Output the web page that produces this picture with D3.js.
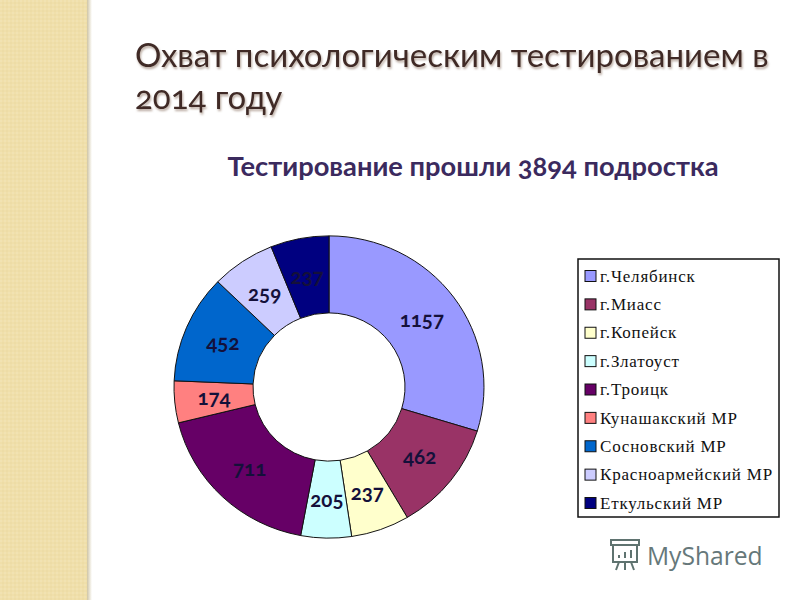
<!DOCTYPE html>
<html>
<head>
<meta charset="utf-8">
<script src="https://cdn.jsdelivr.net/npm/d3@7"></script>
<style>
  html, body { margin: 0; padding: 0; background: #fff; }
  svg { display: block; }
  text { font-feature-settings: "onum"; }
</style>
</head>
<body>
<div id="chart"></div>
<script>
const categories = ['г.Челябинск', 'г.Миасс', 'г.Копейск', 'г.Златоуст', 'г.Троицк',
  'Кунашакский МР', 'Сосновский МР', 'Красноармейский МР', 'Еткульский МР'];
const values = [1157, 462, 237, 205, 711, 174, 452, 259, 237];
const colors = ['#9999ff', '#993366', '#ffffcc', '#ccffff', '#660066',
  '#ff8080', '#0066cc', '#ccccff', '#000080'];
const titleLines = ['Охват психологическим тестированием в', '2014 году'];
const subtitle = 'Тестирование прошли 3894 подростка';

const width = 800;
const height = 600;

const svg = d3.select('#chart')
  .append('svg')
  .attr('width', width)
  .attr('height', height);

const defs = svg.append('defs');

// dotted tan texture of the slide's side band
const pattern = defs.append('pattern')
  .attr('id', 'band')
  .attr('width', 4)
  .attr('height', 4)
  .attr('patternUnits', 'userSpaceOnUse');
pattern.append('rect').attr('width', 4).attr('height', 4).attr('fill', '#f0dfaa');
pattern.append('circle').attr('cx', 1).attr('cy', 1).attr('r', 0.8).attr('fill', '#f4e6bd');
pattern.append('circle').attr('cx', 3).attr('cy', 3).attr('r', 0.8).attr('fill', '#ebd9a2');

const edge = defs.append('linearGradient').attr('id', 'edge');
edge.append('stop').attr('offset', '0%').attr('stop-color', '#cfc5a6');
edge.append('stop').attr('offset', '100%').attr('stop-color', '#ffffff');

const shadow = defs.append('filter')
  .attr('id', 'shadow')
  .attr('x', '-5%').attr('y', '-20%')
  .attr('width', '110%').attr('height', '150%');
shadow.append('feDropShadow')
  .attr('dx', 1).attr('dy', 2)
  .attr('stdDeviation', 1.2)
  .attr('flood-color', '#8a7060')
  .attr('flood-opacity', 0.6);

svg.append('rect').attr('width', 87).attr('height', height).attr('fill', 'url(#band)');
svg.append('rect').attr('x', 87).attr('width', 5).attr('height', height).attr('fill', 'url(#edge)');

// Title
svg.selectAll('.title')
  .data(titleLines)
  .enter()
  .append('text')
  .attr('class', 'title')
  .attr('x', 135)
  .attr('y', (d, i) => 67 + i * 42)
  .attr('font-family', 'Lato')
  .attr('font-size', 33)
  .attr('fill', '#3f2a26')
  .attr('filter', 'url(#shadow)')
  .text(d => d);

svg.append('text')
  .attr('x', 473)
  .attr('y', 176)
  .attr('text-anchor', 'middle')
  .attr('font-family', 'Lato')
  .attr('font-weight', 'bold')
  .attr('font-size', 27.3)
  .attr('fill', '#3b2a5e')
  .text(subtitle);

// Donut, slightly squashed vertically like the source slide
const pie = d3.pie().sort(null).value(d => d);
const arc = d3.arc().innerRadius(76).outerRadius(155);

const donut = svg.append('g').attr('transform', 'translate(329,387) scale(1,0.975)');

donut.selectAll('path')
  .data(pie(values))
  .enter()
  .append('path')
  .attr('d', arc)
  .attr('fill', (d, i) => colors[i])
  .attr('stroke', '#111')
  .attr('stroke-width', 1);

donut.selectAll('text')
  .data(pie(values))
  .enter()
  .append('text')
  .attr('transform', d => `translate(${arc.centroid(d)})`)
  .attr('text-anchor', 'middle')
  .attr('dy', '0.36em')
  .attr('font-family', 'Lato')
  .attr('font-weight', 'bold')
  .attr('font-size', 20.5)
  .attr('fill', '#14103a')
  .text(d => d.data);

// Legend
const legendY = d3.scalePoint()
  .domain(categories)
  .range([276, 503]);

svg.append('rect')
  .attr('x', 578)
  .attr('y', 259)
  .attr('width', 201)
  .attr('height', 258)
  .attr('fill', '#fff')
  .attr('stroke', '#111')
  .attr('stroke-width', 1.5);

const legend = svg.selectAll('.legend')
  .data(categories)
  .enter()
  .append('g')
  .attr('class', 'legend')
  .attr('transform', d => `translate(585,${legendY(d)})`);

legend.append('rect')
  .attr('y', -5.5)
  .attr('width', 11)
  .attr('height', 11)
  .attr('fill', (d, i) => colors[i])
  .attr('stroke', '#111')
  .attr('stroke-width', 1);

legend.append('text')
  .attr('x', 15)
  .attr('dy', '0.33em')
  .attr('font-family', 'Liberation Serif')
  .attr('font-size', 17)
  .attr('letter-spacing', 0.8)
  .attr('fill', '#111')
  .text(d => d);

// Watermark
const mark = svg.append('g')
  .attr('transform', 'translate(608,538)')
  .attr('fill', 'none')
  .attr('stroke', '#5f7370')
  .attr('stroke-width', 2);
mark.append('rect').attr('x', 3).attr('y', 2).attr('width', 28).attr('height', 5);
mark.append('rect').attr('x', 5).attr('y', 7).attr('width', 24).attr('height', 17);
mark.append('path').attr('d', 'M11 24l-3 8M23 24l3 8M17 24v8M11 20v-3M17 20v-6M23 20v-8');

svg.append('text')
  .attr('x', 647)
  .attr('y', 565)
  .attr('font-family', 'Open Sans')
  .attr('font-size', 24.6)
  .attr('fill', '#66787a')
  .text('MyShared');
</script>
</body>
</html>
